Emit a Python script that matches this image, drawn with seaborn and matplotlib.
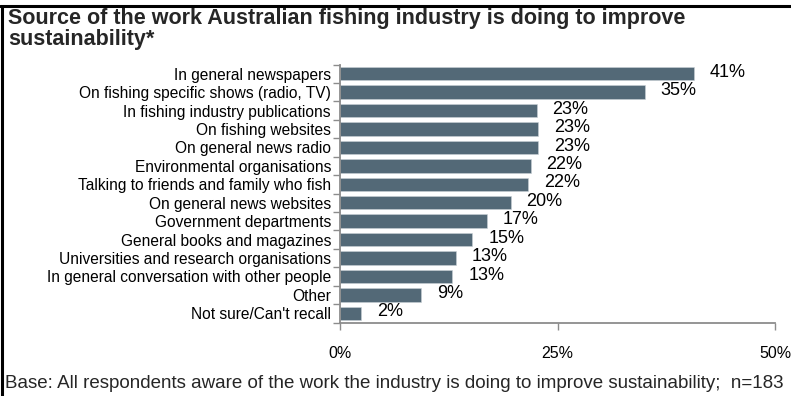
import matplotlib
matplotlib.use("Agg")
import matplotlib.pyplot as plt
import seaborn as sns
import pandas as pd
from matplotlib.lines import Line2D

sources = [
    "In general newspapers",
    "On fishing specific shows (radio, TV)",
    "In fishing industry publications",
    "On fishing websites",
    "On general news radio",
    "Environmental organisations",
    "Talking to friends and family who fish",
    "On general news websites",
    "Government departments",
    "General books and magazines",
    "Universities and research organisations",
    "In general conversation with other people",
    "Other",
    "Not sure/Can't recall",
]
shares = [40.7, 35.0, 22.6, 22.8, 22.8, 21.9, 21.6, 19.6, 16.9, 15.2, 13.3, 12.9, 9.3, 2.4]
x_ticks = [0, 25, 50]
x_tick_labels = ["0%", "25%", "50%"]

title = "Source of the work Australian fishing industry is doing to improve\nsustainability*"
footnote = "Base: All respondents aware of the work the industry is doing to improve sustainability;  n=183"

sns.set_style("white")
plt.rcParams["font.family"] = ["Liberation Sans", "DejaVu Sans"]

df = pd.DataFrame({"source": sources, "share": shares})

fig = plt.figure(figsize=(7.91, 3.96), dpi=100)
ax = fig.add_axes([340 / 791, 1 - 322.5 / 396, 435 / 791, (322.5 - 64.5) / 396])

sns.barplot(data=df, x="share", y="source", orient="h", color="#536977",
            saturation=1, width=0.73, edgecolor="#c9d0d5", linewidth=0.4, ax=ax)

ax.set_xlim(0, 50)
ax.set_ylim(len(sources) - 0.5, -0.5)
ax.set_xlabel("")
ax.set_ylabel("")

spine_col = "#8c8c8c"
for side in ["top", "right"]:
    ax.spines[side].set_visible(False)
for side in ["left", "bottom"]:
    ax.spines[side].set_color(spine_col)
    ax.spines[side].set_linewidth(1.3)

ax.set_xticks(x_ticks)
ax.set_xticklabels(x_tick_labels, fontsize=11.5)
ax.tick_params(axis="x", direction="out", length=5, width=1.0, color=spine_col,
               pad=12, labelcolor="black", bottom=True)

ax.set_yticks(range(len(sources)))
ax.set_yticklabels(sources, fontsize=11.2)
ax.tick_params(axis="y", which="major", length=0, pad=6.5, labelcolor="black")
ax.set_yticks([i - 0.5 for i in range(len(sources) + 1)], minor=True)
ax.tick_params(axis="y", which="minor", direction="out", length=5, width=1.0,
               color=spine_col, left=True)

for i, v in enumerate(shares):
    ax.annotate(f"{v:.0f}%", xy=(v, i), xytext=(11.5, 1), textcoords="offset points",
                va="center", ha="left", fontsize=13, color="black")

fig.text(8 / 791, 1 - 8 / 396, title, ha="left", va="top", fontsize=15.5,
         fontweight="bold", linespacing=0.98)
fig.text(5 / 791, 1 - 383 / 396, footnote, ha="left", va="center", fontsize=13.5)

# frame along the top and left edges
fig.add_artist(Line2D([0, 1], [1 - 6 / 396, 1 - 6 / 396], transform=fig.transFigure,
                      color="black", linewidth=2.2))
fig.add_artist(Line2D([1.5 / 791, 1.5 / 791], [0, 1 - 6 / 396], transform=fig.transFigure,
                      color="black", linewidth=2.2))

fig.savefig("out.png", dpi=100)
